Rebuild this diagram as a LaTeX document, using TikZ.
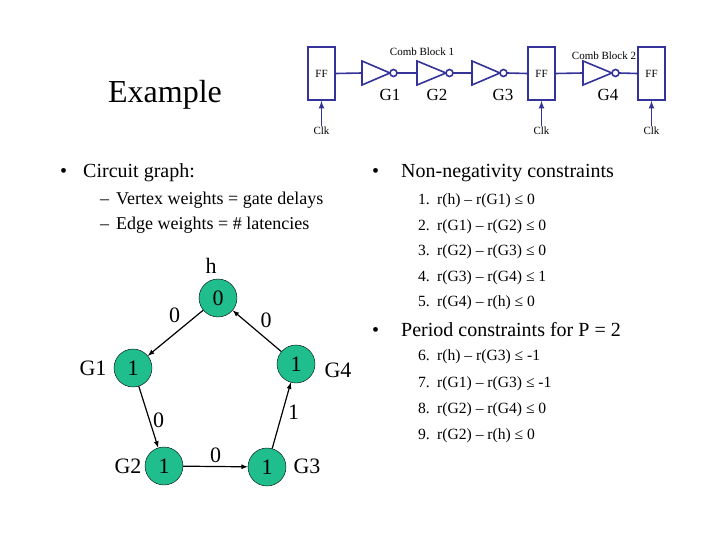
\documentclass[tikz,border=0pt]{standalone}
\usepackage{fontspec}
\setmainfont{Liberation Serif}
\begin{document}
\begin{tikzpicture}[x=1pt,y=-1pt,
  wire/.style={draw=cblue,line width=1.6pt},
  ff/.style={draw=cblue,line width=1.6pt,minimum width=27pt,minimum height=53pt,inner sep=0pt,font=\fontsize{11}{12}\selectfont},
  small/.style={font=\fontsize{11}{12}\selectfont,inner sep=1pt},
  glab/.style={font=\fontsize{17}{19}\selectfont},
  vtx/.style={circle,draw=black,fill=cgreen,minimum size=38pt,inner sep=0pt,font=\fontsize{22}{24}\selectfont},
  vlab/.style={font=\fontsize{22}{24}\selectfont,inner sep=1pt},
  elab/.style={font=\fontsize{22}{24}\selectfont,inner sep=1pt},
  edge/.style={->,>=latex,line width=1.2pt},
  txt/.style={font=\fontsize{20}{23}\selectfont,anchor=west,inner sep=0pt},
  sub/.style={font=\fontsize{18}{20}\selectfont,anchor=west,inner sep=0pt},
  con/.style={font=\fontsize{15.6}{18}\selectfont,anchor=base west,inner sep=0pt}]
\definecolor{cblue}{RGB}{51,51,153}
\definecolor{cgreen}{RGB}{32,190,140}
\useasboundingbox (0,0) rectangle (720,540);

% circuit
\node[ff] (f1) at (321.5,73.5) {FF};
\node[ff] (f2) at (541.5,73.5) {FF};
\node[ff] (f3) at (651.5,73.5) {FF};
\foreach \n/\a/\b in {g1/362/390,g2/417/446,g3/472/500,g4/583/612}{
  \draw[wire,fill=white] (\a,61) -- (\a,85) -- (\b,73) -- cycle;
  \draw[wire,fill=white] (\b+3.5,73) circle (3.5);
  \coordinate (\n i) at (\a,73);
  \coordinate (\n o) at (\b+7,73);
}
\draw[wire] (f1.east) -- (g1i);
\draw[wire] (g1o) -- (g2i);
\draw[wire] (g2o) -- (g3i);
\draw[wire] (g3o) -- (f2.west);
\draw[wire] (f2.east) -- (g4i);
\draw[wire] (g4o) -- (f3.west);
\foreach \f in {f1,f2,f3}{
  \node[small] (\f c) at ([yshift=-30pt]\f.south) {Clk};
  \draw[wire,-latex] (\f c.north) -- (\f.south);
}
\node[glab] (l1) at (390,95) {G1};
\node[glab] (l2) at (437,95) {G2};
\node[glab] (l3) at (503,95) {G3};
\node[glab] (l4) at (608,95) {G4};
\node[small] (cb1) at (422,52) {Comb Block 1};
\node[small] (cb2) at (604,56) {Comb Block 2};

\node[font=\fontsize{32}{35}\selectfont] (ex) at (165,95) {Example};

% left text
\node[txt] (b1) at (60,173) {•\hspace{16pt}Circuit graph:};
\node[sub] (s1) at (100,200) {–\hspace{7pt}Vertex weights = gate delays};
\node[sub] (s2) at (100,225) {–\hspace{7pt}Edge weights = \# latencies};

% graph
\node[vtx] (h) at (218,298) {0};
\node[vtx] (G1) at (133,368) {1};
\node[vtx] (G4) at (296,364) {1};
\node[vtx] (G2) at (164,466) {1};
\node[vtx] (G3) at (267,467) {1};
\node[vlab] (lh) at (211,266) {h};
\node[vlab] (lG1) at (93,368) {G1};
\node[vlab] (lG4) at (338,370) {G4};
\node[vlab] (lG2) at (128,466) {G2};
\node[vlab] (lG3) at (307,466) {G3};
\draw[edge] (h) -- node[elab,pos=0.35,above left=2pt] {0} (G1);
\draw[edge] (G1) -- node[elab,pos=0.55,right=2pt] {0} (G2);
\draw[edge] (G2) -- node[elab,above=2pt] {0} (G3);
\draw[edge] (G3) -- node[elab,pos=0.55,right=4pt] {1} (G4);
\draw[edge] (G4) -- node[elab,pos=0.5,above right=2pt] {0} (h);

% right text
\node[txt] (b2) at (372,173) {•\hspace{22pt}Non-negativity constraints};
\foreach \i/\y/\t in {1/200/{r(h) – r(G1) ≤ 0},2/225/{r(G1) – r(G2) ≤ 0},3/250/{r(G2) – r(G3) ≤ 0},4/276/{r(G3) – r(G4) ≤ 1},5/301/{r(G4) – r(h) ≤ 0},
  6/355/{r(h) – r(G3) ≤ -1},7/382/{r(G1) – r(G3) ≤ -1},8/408/{r(G2) – r(G4) ≤ 0},9/434/{r(G2) – r(h) ≤ 0}}{
  \node[con,anchor=base east] (n\i) at (430,\y+5) {\i.};
  \node[con] (c\i) at (437,\y+5) {\t};
}
\node[txt] (b3) at (372,330) {•\hspace{22pt}Period constraints for P = 2};
\end{tikzpicture}
\end{document}
